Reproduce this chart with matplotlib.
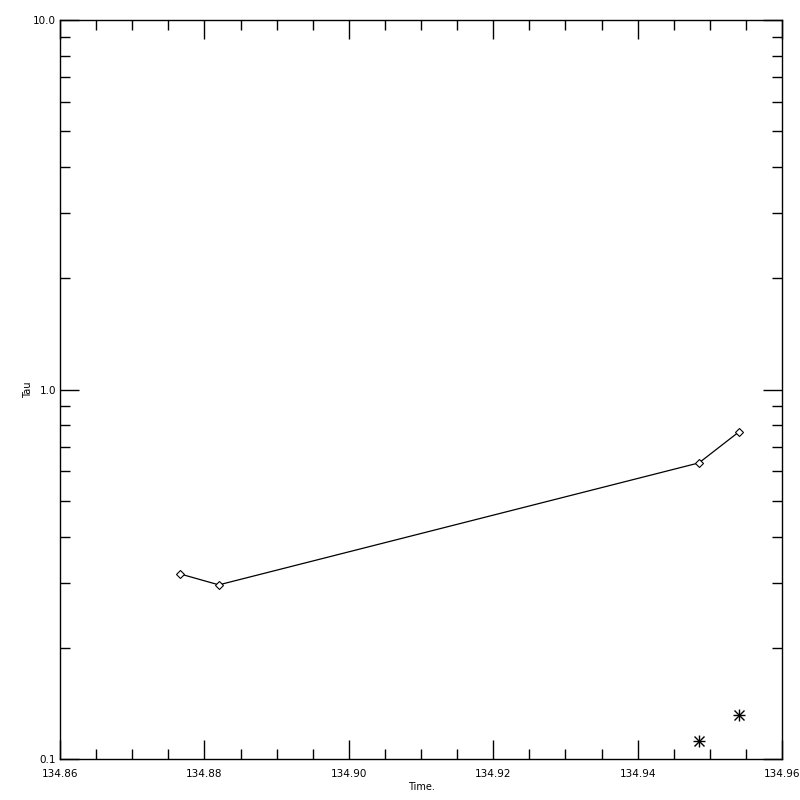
import numpy as np
import matplotlib
matplotlib.use('Agg')
import matplotlib.pyplot as plt
from matplotlib.ticker import FixedLocator, LogLocator, NullFormatter, MultipleLocator, FormatStrFormatter

# data
time_line = [134.8766, 134.8820, 134.9485, 134.9540]
tau_line = [0.317, 0.296, 0.633, 0.767]
time_star = [134.9485, 134.9540]
tau_star = [0.112, 0.1315]

x_ticks = [134.86, 134.88, 134.90, 134.92, 134.94, 134.96]
y_ticks = [0.1, 1.0, 10.0]

fig = plt.figure(figsize=(8, 8), dpi=100)
ax = fig.add_axes([0.075, 0.05125, 0.9025, 0.92375])

ax.plot(time_line, tau_line, color='black', lw=0.9, marker='D', ms=4,
        mfc='white', mec='black', mew=0.8)
# asterisk symbol = plus + cross
ax.plot(time_star, tau_star, ls='none', marker='+', ms=9,
        color='black', mew=1.0)
ax.plot(time_star, tau_star, ls='none', marker='x', ms=7,
        color='black', mew=1.0)

ax.set_yscale('log')
ax.set_xlim(134.86, 134.96)
ax.set_ylim(0.1, 10.0)

ax.xaxis.set_major_locator(FixedLocator(x_ticks))
ax.xaxis.set_minor_locator(MultipleLocator(0.005))
ax.xaxis.set_major_formatter(FormatStrFormatter('%.2f'))
ax.yaxis.set_major_locator(FixedLocator(y_ticks))
ax.yaxis.set_minor_locator(LogLocator(base=10, subs=np.arange(2, 10)))
ax.yaxis.set_major_formatter(FormatStrFormatter('%.1f'))
ax.yaxis.set_minor_formatter(NullFormatter())

ax.tick_params(which='both', direction='in', top=True, right=True,
               width=1.0)
ax.tick_params(axis='x', labelsize=7.5, pad=7)
ax.tick_params(axis='y', labelsize=7.5, pad=3)
ax.tick_params(which='major', length=14)
ax.tick_params(which='minor', length=7)

for s in ax.spines.values():
    s.set_linewidth(1.0)

ax.set_xlabel('Time.', fontsize=7, labelpad=2)
ax.set_ylabel('Tau', fontsize=7, labelpad=0)

fig.savefig('out.png', dpi=100)
